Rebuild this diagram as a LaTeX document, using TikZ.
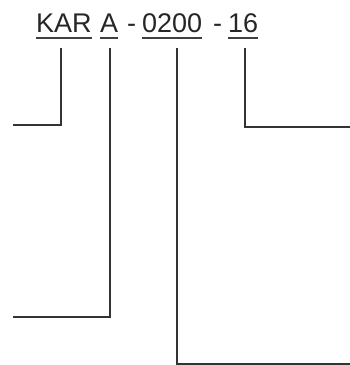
\documentclass[tikz,border=0pt]{standalone}
\usepackage{fontspec}
\setmainfont{Liberation Sans}
\usepackage{tikz}
\usetikzlibrary{positioning,calc}

\begin{document}
\begin{tikzpicture}[
    x=1pt, y=1pt,
    every node/.style={font=\fontsize{27}{30}\selectfont, text=black!85},
    part/.style={inner sep=0pt, anchor=base west},
    uline/.style={draw=black!75, line width=1.8pt},
    lead/.style={draw=black!80, line width=1.6pt}
]
\useasboundingbox (0,0) rectangle (350,365);
% code parts
\node[part] (kar) at (36,332) {KAR};
\node[part] (ver) at (100,332) {A};
\node[part] (dashA) at (127,332) {-};
\node[part] (len) at (142,332) {0200};
\node[part] (dashB) at (213,332) {-};
\node[part] (dia) at (228,332) {16};
% underlines
\foreach \p in {kar,ver,len,dia}
  \draw[uline] ([yshift=-5pt]\p.base west) -- ([yshift=-5pt]\p.base east);
% free ends of the leaders
\coordinate (karend) at (13,240);
\coordinate (verend) at (13,48);
\coordinate (lenend) at (350,1.2);
\coordinate (diaend) at (350,238);
\draw[lead] ([xshift=-3pt,yshift=-15pt]kar.base) |- (karend);
\draw[lead] ([xshift=1pt,yshift=-15pt]ver.base) |- (verend);
\draw[lead] ([xshift=5pt,yshift=-15pt]len.base) |- (lenend);
\draw[lead] ([xshift=2pt,yshift=-15pt]dia.base) |- (diaend);
\end{tikzpicture}
\end{document}
